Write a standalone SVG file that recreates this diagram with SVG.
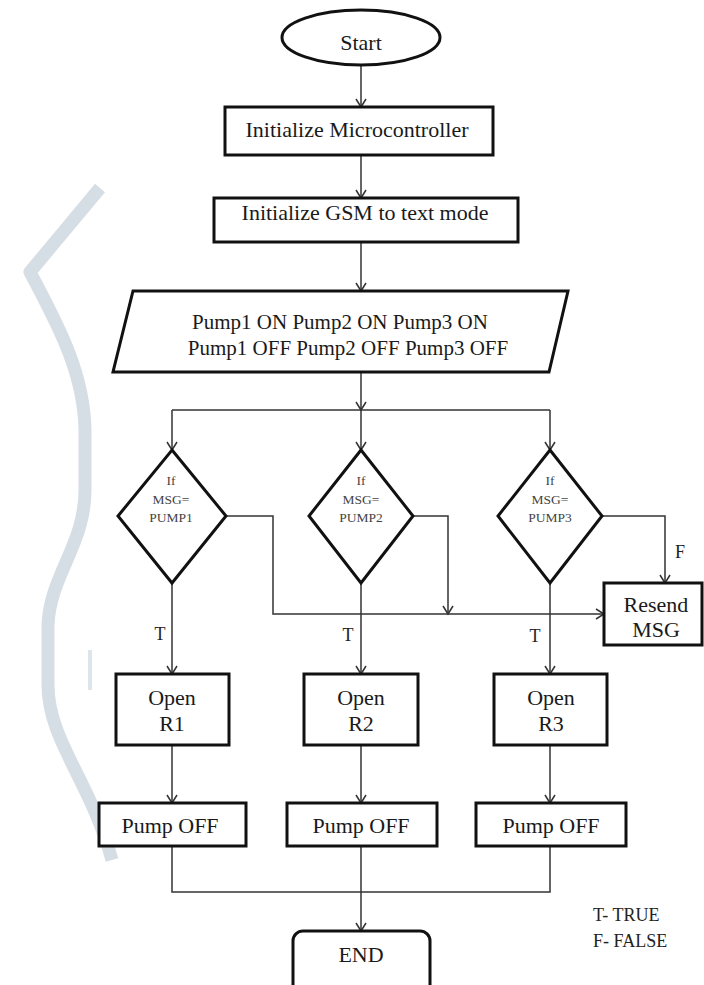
<svg xmlns="http://www.w3.org/2000/svg" width="704" height="985" viewBox="0 0 704 985">
<style>
.shape{fill:#fff;stroke:#111;stroke-width:3}
.conn{fill:none;stroke:#333;stroke-width:1.5}
.t{font-family:"Liberation Serif","Times New Roman",serif;font-size:22px;fill:#1a1a1a;text-anchor:middle}
.p{font-family:"Liberation Serif","Times New Roman",serif;font-size:21px;fill:#1a1a1a;text-anchor:middle}
.d{font-family:"Liberation Serif","Times New Roman",serif;font-size:13.5px;fill:#444;text-anchor:middle}
.l{font-family:"Liberation Serif","Times New Roman",serif;font-size:18px;fill:#222}
.wm{fill:none;stroke:#d6dee5;stroke-width:13;stroke-linejoin:round}
</style>
<defs>
<marker id="arr" viewBox="-10 -6 12 12" refX="0" refY="0" markerWidth="12" markerHeight="12" markerUnits="userSpaceOnUse" orient="auto">
<path d="M-8,-5 L0,0 L-8,5" fill="none" stroke="#333" stroke-width="1.5"/>
</marker>
</defs>
<rect width="704" height="985" fill="#fff"/>
<g id="watermark">
<path class="wm" d="M100 188 L30 272 C55 320 84 370 85 430 L85 490 C85 545 50 575 48 625 L48 685 C48 740 90 780 112 860"/>
<line x1="90" y1="650" x2="90" y2="690" stroke="#dde4ea" stroke-width="4"/>
</g>
<g id="connectors">
<line class="conn" x1="361" y1="65" x2="361" y2="107" marker-end="url(#arr)"/>
<line class="conn" x1="361" y1="155" x2="361" y2="198" marker-end="url(#arr)"/>
<line class="conn" x1="361" y1="242" x2="361" y2="291" marker-end="url(#arr)"/>
<line class="conn" x1="361" y1="372" x2="361" y2="410" marker-end="url(#arr)"/>
<line class="conn" x1="361" y1="410" x2="361" y2="450" marker-end="url(#arr)"/>
<line class="conn" x1="172" y1="410" x2="550" y2="410"/>
<line class="conn" x1="172" y1="410" x2="172" y2="450" marker-end="url(#arr)"/>
<line class="conn" x1="550" y1="410" x2="550" y2="450" marker-end="url(#arr)"/>
<polyline class="conn" points="226,516 273,516 273,614 604,614" marker-end="url(#arr)"/>
<polyline class="conn" points="413,516 448,516 448,614" marker-end="url(#arr)"/>
<polyline class="conn" points="602,516 665,516 665,583" marker-end="url(#arr)"/>
<line class="conn" x1="172" y1="583" x2="172" y2="674" marker-end="url(#arr)"/>
<line class="conn" x1="361" y1="583" x2="361" y2="674" marker-end="url(#arr)"/>
<line class="conn" x1="550" y1="583" x2="550" y2="674" marker-end="url(#arr)"/>
<line class="conn" x1="172" y1="745" x2="172" y2="803" marker-end="url(#arr)"/>
<line class="conn" x1="361" y1="745" x2="361" y2="803" marker-end="url(#arr)"/>
<line class="conn" x1="550" y1="745" x2="550" y2="803" marker-end="url(#arr)"/>
<polyline class="conn" points="172,846 172,892 550,892 550,846"/>
<line class="conn" x1="361" y1="846" x2="361" y2="931" marker-end="url(#arr)"/>
<text class="l" x="160" y="640" text-anchor="middle">T</text>
<text class="l" x="348" y="641" text-anchor="middle">T</text>
<text class="l" x="535" y="642" text-anchor="middle">T</text>
<text class="l" x="680" y="558" text-anchor="middle">F</text>
</g>
<g id="start">
<ellipse class="shape" cx="361" cy="37.5" rx="79" ry="27.5"/>
<text class="t" x="361" y="50">Start</text>
</g>
<g id="init-mcu">
<rect class="shape" x="225" y="107" width="268" height="48"/>
<text class="t" x="357" y="137">Initialize Microcontroller</text>
</g>
<g id="init-gsm">
<rect class="shape" x="214" y="198" width="304" height="44"/>
<text class="t" x="365" y="220">Initialize GSM to text mode</text>
</g>
<g id="input">
<polygon class="shape" points="133,291 568,291 549,372 113,372"/>
<text class="p" x="340" y="329">Pump1 ON Pump2 ON Pump3 ON</text>
<text class="p" x="348" y="355">Pump1 OFF Pump2 OFF Pump3 OFF</text>
</g>
<g id="dec1">
<polygon class="shape" points="172,450 226,516 172,583 118,516"/>
<text class="d" x="171" y="485">If</text>
<text class="d" x="171" y="504">MSG=</text>
<text class="d" x="171" y="522">PUMP1</text>
</g>
<g id="dec2">
<polygon class="shape" points="361,450 413,516 361,583 309,516"/>
<text class="d" x="361" y="485">If</text>
<text class="d" x="361" y="504">MSG=</text>
<text class="d" x="361" y="522">PUMP2</text>
</g>
<g id="dec3">
<polygon class="shape" points="550,450 602,516 550,583 498,516"/>
<text class="d" x="550" y="485">If</text>
<text class="d" x="550" y="504">MSG=</text>
<text class="d" x="550" y="522">PUMP3</text>
</g>
<g id="resend">
<rect class="shape" x="604" y="583" width="98" height="62"/>
<text class="t" x="656" y="612">Resend</text>
<text class="t" x="656" y="637">MSG</text>
</g>
<g id="open1">
<rect class="shape" x="116" y="674" width="113" height="71"/>
<text class="t" x="172" y="705">Open</text>
<text class="t" x="172" y="731">R1</text>
</g>
<g id="open2">
<rect class="shape" x="304" y="674" width="114" height="71"/>
<text class="t" x="361" y="705">Open</text>
<text class="t" x="361" y="731">R2</text>
</g>
<g id="open3">
<rect class="shape" x="494" y="674" width="113" height="71"/>
<text class="t" x="551" y="705">Open</text>
<text class="t" x="551" y="731">R3</text>
</g>
<g id="off1">
<rect class="shape" x="99" y="803" width="147" height="43"/>
<text class="t" x="170" y="833">Pump OFF</text>
</g>
<g id="off2">
<rect class="shape" x="287" y="803" width="150" height="43"/>
<text class="t" x="361" y="833">Pump OFF</text>
</g>
<g id="off3">
<rect class="shape" x="476" y="803" width="150" height="43"/>
<text class="t" x="551" y="833">Pump OFF</text>
</g>
<g id="end">
<rect class="shape" x="293" y="931" width="137" height="72" rx="10"/>
<text class="t" x="361" y="962">END</text>
</g>
<g id="legend">
<text class="l" x="593" y="921">T- TRUE</text>
<text class="l" x="593" y="947">F- FALSE</text>
</g>
</svg>
